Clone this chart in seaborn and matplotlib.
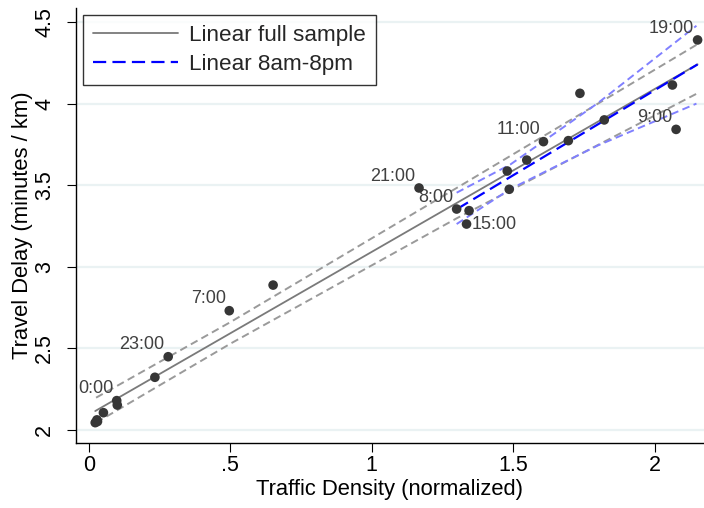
import numpy as np
import pandas as pd
import matplotlib
matplotlib.use("Agg")
import matplotlib.pyplot as plt
import seaborn as sns
from matplotlib.lines import Line2D

# ---------------- data ----------------
hours = list(range(24))
density = [0.098, 0.100, 0.051, 0.028, 0.022, 0.030, 0.233, 0.496,
           1.300, 2.076, 2.063, 1.607, 1.695, 1.548, 1.479, 1.335,
           1.344, 1.736, 1.822, 2.152, 1.486, 1.167, 0.651, 0.280]
delay = [2.180, 2.153, 2.106, 2.062, 2.045, 2.052, 2.323, 2.731,
         3.354, 3.842, 4.114, 3.767, 3.773, 3.654, 3.587, 3.262,
         3.344, 4.063, 3.900, 4.390, 3.475, 3.483, 2.888, 2.449]
point_labels = ["0:00", "", "", "", "", "", "", "7:00",
                "8:00", "9:00", "", "11:00", "", "", "", "15:00",
                "", "", "", "19:00", "", "21:00", "", "23:00"]

# 95% confidence bounds
ci_full_x = [0.025, 0.50, 1.30, 2.148]
ci_full_lower = [2.045, 2.529, 3.297, 4.060]
ci_full_upper = [2.198, 2.661, 3.483, 4.360]
ci_day_x = [1.300, 1.490, 1.800, 2.148]
ci_day_lower = [3.262, 3.477, 3.744, 4.000]
ci_day_upper = [3.454, 3.627, 4.004, 4.477]

xticks = [0, 0.5, 1, 1.5, 2]
xtick_labels = ["0", ".5", "1", "1.5", "2"]
yticks = [2, 2.5, 3, 3.5, 4, 4.5]
ytick_labels = ["2", "2.5", "3", "3.5", "4", "4.5"]
legend_labels = ["Linear full sample", "Linear 8am-8pm"]
x_title = "Traffic Density (normalized)"
y_title = "Travel Delay (minutes / km)"

df = pd.DataFrame({"hour": hours, "density": density, "delay": delay,
                   "label": point_labels})
day = df[(df.hour >= 8) & (df.hour <= 20)]


def linear_fit(x, y):
    x = np.asarray(x, float)
    y = np.asarray(y, float)
    b, a = np.polyfit(x, y, 1)
    xs = np.array([x.min(), x.max()])
    return xs, a + b * xs


# ---------------- style ----------------
sns.set_theme(style="white")
plt.rcParams["font.family"] = ["Liberation Sans", "DejaVu Sans"]
plt.rcParams["lines.scale_dashes"] = False

fig = plt.figure(figsize=(7.04, 5.08), dpi=100)
ax = fig.add_axes([76 / 704, 65 / 508, 628 / 704, 435 / 508])

x_full, y_full = linear_fit(df.density, df.delay)
x_day, y_day = linear_fit(day.density, day.delay)

ci_dash = (0, (5.5, 3.2))
blue_dash = (0, (9.5, 4.5))

for yy in (ci_full_lower, ci_full_upper):
    sns.lineplot(x=ci_full_x, y=yy, ax=ax, color="#9a9a9a", lw=1.4,
                 linestyle=ci_dash, sort=False)
sns.lineplot(x=x_full, y=y_full, ax=ax, color="#7a7a7a", lw=1.3, sort=False)
for yy in (ci_day_lower, ci_day_upper):
    sns.lineplot(x=ci_day_x, y=yy, ax=ax, color="#8080ff", lw=1.4,
                 linestyle=ci_dash, sort=False)
sns.lineplot(x=x_day, y=y_day, ax=ax, color="#0000ff", lw=1.6,
             linestyle=blue_dash, sort=False)

sns.scatterplot(data=df, x="density", y="delay", ax=ax, color="#363636",
                s=48, edgecolor="none", zorder=5)

for _, r in df.iterrows():
    if not r.label:
        continue
    if r.label == "15:00":
        ax.annotate(r.label, (r.density, r.delay), xytext=(4, 0),
                    textcoords="offset points", ha="left", va="center",
                    fontsize=13, color="#404040")
    else:
        ax.annotate(r.label, (r.density, r.delay), xytext=(-2.5, 8.5),
                    textcoords="offset points", ha="right", va="center",
                    fontsize=13, color="#404040")

ax.set_xlim((76 - 89) / 282.8, (704 - 89) / 282.8)
ax.set_ylim(2 + (430 - 443) / 163.2, 2 + (430 - 8) / 163.2)
ax.set_xticks(xticks)
ax.set_xticklabels(xtick_labels)
ax.set_yticks(yticks)
ax.set_yticklabels(ytick_labels, rotation=90, va="center")

ax.yaxis.grid(True, color="#eaf2f3", lw=1.6)
ax.xaxis.grid(False)
ax.set_axisbelow(True)
for side in ["top", "right"]:
    ax.spines[side].set_visible(False)
for side in ["left", "bottom"]:
    ax.spines[side].set_color("black")
    ax.spines[side].set_linewidth(1.0)

ax.tick_params(axis="both", which="major", length=6.5, width=0.8,
               color="black", labelsize=15.5, labelcolor="black",
               bottom=True, left=True)
ax.tick_params(axis="x", pad=2)
ax.tick_params(axis="y", pad=8.5)

ax.set_xlabel(x_title, fontsize=15.8, color="black", labelpad=2)
ax.set_ylabel(y_title, fontsize=15.8, color="black", labelpad=0.5)

handles = [Line2D([], [], color="#7a7a7a", lw=1.3),
           Line2D([], [], color="#0000ff", lw=1.6, linestyle=blue_dash)]
leg = ax.legend(handles, legend_labels, loc="upper left",
                bbox_to_anchor=(7 / 628, 428 / 435), borderaxespad=0,
                fontsize=16.2, frameon=True, fancybox=False,
                edgecolor="black", handlelength=3.75, handletextpad=0.5,
                borderpad=0.45, labelspacing=0.35)
leg.get_frame().set_linewidth(1.0)

fig.savefig("out.png", dpi=100)
